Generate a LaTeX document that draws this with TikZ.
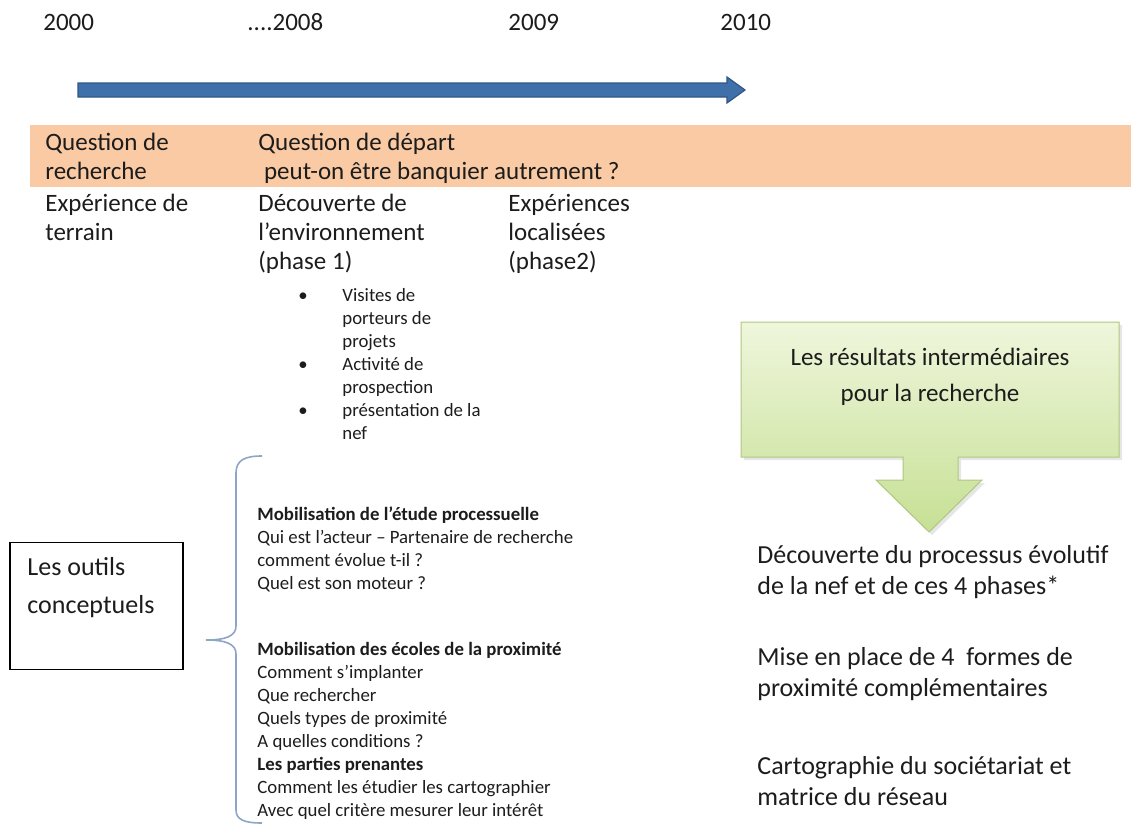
\documentclass[tikz,border=0pt]{standalone}
\usepackage{fontspec}
\setmainfont{Carlito}
\usetikzlibrary{positioning, calc, shadows}
\definecolor{tlblue}{HTML}{3F70AA}
\definecolor{tlborder}{HTML}{2F5687}
\definecolor{bandpeach}{HTML}{F9CAA3}
\definecolor{bracegray}{HTML}{8EA5C5}
\definecolor{restop}{HTML}{EFF6DC}
\definecolor{resbottom}{HTML}{C6E094}
\definecolor{resborder}{HTML}{AFC77F}
\definecolor{inkdark}{HTML}{1C1C1C}

\begin{document}
\begin{tikzpicture}[x=0.5pt, y=-0.5pt,
    year/.style={anchor=west, inner sep=0pt, font=\fontsize{12.5}{14.5}\selectfont, text=inkdark},
    phase/.style={anchor=north west, inner sep=0pt, align=left, font=\fontsize{12.5}{14.5}\selectfont, text=inkdark},
    smalltext/.style={anchor=north west, inner sep=0pt, align=left, font=\fontsize{9.4}{11.5}\selectfont, text=inkdark},
    result/.style={anchor=north west, inner sep=0pt, align=left, font=\fontsize{13}{15.5}\selectfont, text=inkdark}
]
\useasboundingbox (0,0) rectangle (1131,825);

% years and time arrow
\node[year] (y2000) at (43,22) {2000};
\node[year] (y2008) at (247,22) {....2008};
\node[year] (y2009) at (508,22) {2009};
\node[year] (y2010) at (720,22) {2010};
\filldraw[fill=tlblue, draw=tlborder, line width=0.6pt]
    (78,83) -- (727,83) -- (727,77) -- (745,90) -- (727,103) -- (727,97) -- (78,97) -- cycle;

% question band
\fill[bandpeach] (30,125) rectangle (1131,187);
\node[phase] (qrech) at (45,133) {Question de\\recherche};
\node[phase] (qdep) at (258,133) {Question de départ\\\ peut-on être banquier autrement ?};

% phases
\node[phase] (terrain) at (45,194) {Expérience de\\terrain};
\node[phase] (phase1) at (258,194) {Découverte de\\l’environnement\\(phase 1)};
\node[phase] (phase2) at (508,194) {Expériences\\localisées\\(phase2)};

\node[smalltext] (visites) at (342,288) {Visites de\\porteurs de\\projets\\Activité de\\prospection\\présentation de la\\nef};
\foreach \yb in {297,366,412}
  \node[smalltext, anchor=center] at (303,\yb) {•};

% conceptual tools
\node[draw=black, line width=0.6pt, minimum width=86.5pt, minimum height=63.5pt, inner sep=0pt] (outils) at (96.5,606) {};
\node[phase, font=\fontsize{13}{19}\selectfont] (outilstxt) at (27,557) {Les outils\\conceptuels};
\draw[bracegray, line width=0.8pt]
    (262,456) .. controls (245,456) and (236,460) .. (236,473) -- (236,626)
    .. controls (236,636) and (226,640) .. (206,640)
    .. controls (226,640) and (236,644) .. (236,654) -- (236,810)
    .. controls (236,820) and (245,823) .. (262,823);
\node[smalltext] (process) at (257,506) {\textbf{Mobilisation de l’étude processuelle}\\Qui est l’acteur – Partenaire de recherche\\comment évolue t-il ?\\Quel est son moteur ?};
\node[smalltext] (proxi) at (257,642) {\textbf{Mobilisation des écoles de la proximité}\\Comment s’implanter\\Que rechercher\\Quels types de proximité\\A quelles conditions ?\\\textbf{Les parties prenantes}\\Comment les étudier les cartographier\\Avec quel critère mesurer leur intérêt};

% intermediate results
\path[draw=resborder, line width=0.5pt, top color=restop, bottom color=resbottom,
      drop shadow={opacity=0.2, shadow xshift=1.5pt, shadow yshift=-1.5pt}]
    (741,322) -- (1119,322) -- (1119,457) -- (958,457) -- (958,480) -- (982,480)
    -- (929,532) -- (876,480) -- (903,480) -- (903,457) -- (741,457) -- cycle;
\node[align=center, inner sep=0pt, font=\fontsize{12.5}{18}\selectfont, text=inkdark] (restitle) at (930,377) {Les résultats intermédiaires\\pour la recherche};
\node[result] (evol) at (757,545) {Découverte du processus évolutif\\de la nef et de ces 4 phases*};
\node[result] (formes) at (757,647) {Mise en place de 4~ formes de\\proximité complémentaires};
\node[result] (carto) at (757,756) {Cartographie du sociétariat et\\matrice du réseau};
\end{tikzpicture}
\end{document}
